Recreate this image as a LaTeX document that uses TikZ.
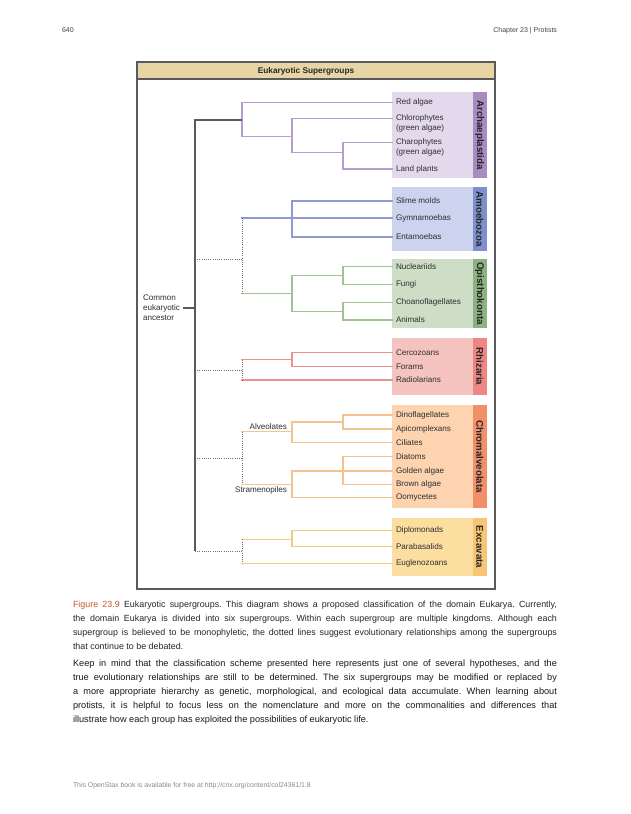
\documentclass[tikz,border=0pt]{standalone}
\usepackage{fontspec}
\setmainfont{Liberation Sans}
\frenchspacing
\definecolor{framec}{HTML}{5A5A5A}
\definecolor{tanc}{HTML}{E8D5A6}
\definecolor{txt}{HTML}{2E2E2E}
\definecolor{hdr}{HTML}{444444}
\definecolor{foot}{HTML}{8A8A8A}
\definecolor{figred}{HTML}{C9542F}
\definecolor{dotc}{HTML}{707070}
\definecolor{boxA}{HTML}{E3D9EC}\definecolor{stripA}{HTML}{A98AC1}\definecolor{lineA}{HTML}{B49ECD}
\definecolor{boxB}{HTML}{CBD3EE}\definecolor{stripB}{HTML}{7D8FCC}\definecolor{lineB}{HTML}{8D9BD2}
\definecolor{boxO}{HTML}{CDDDC6}\definecolor{stripO}{HTML}{8DB282}\definecolor{lineO}{HTML}{A0C394}
\definecolor{boxR}{HTML}{F6C4C0}\definecolor{stripR}{HTML}{EE8784}\definecolor{lineR}{HTML}{EE908C}
\definecolor{boxC}{HTML}{FDD4AF}\definecolor{stripC}{HTML}{F28F6B}\definecolor{lineC}{HTML}{F6C290}
\definecolor{boxE}{HTML}{FDDEA1}\definecolor{stripE}{HTML}{F7C575}\definecolor{lineE}{HTML}{F3CB80}
\newcommand\gbox[6]{%
  \fill[#3] (392,#1) rectangle (487,#2);
  \fill[#4] (472.5,#1) rectangle (487,#2);
  \node[grp] (#6) at (479.75,{(#1+#2)/2}) {#5};}
\newcommand\leaf[3]{%
  \coordinate (#1) at (392,#2);
  \node[lbl] (#1-t) at (396,#2) {#3};}
\begin{document}
\begin{tikzpicture}[x=1pt,y=-1pt,
  every node/.style={inner sep=0pt, outer sep=0pt},
  lbl/.style={anchor=west, font=\fontsize{8.1}{9.8}\selectfont, text=txt, align=left},
  grp/.style={rotate=-90, font=\fontsize{9.7}{11}\selectfont\bfseries, text=black!85},
  br/.style={line width=1.1pt, line cap=rect},
  dark/.style={draw=framec, line width=1.1pt},
  dots/.style={draw=dotc, line width=0.9pt, dash pattern=on 0.9pt off 1.3pt},
  captxt/.style={anchor=base west, font=\fontsize{8.9}{11}\selectfont, text=black!85},
  bodytxt/.style={anchor=base west, font=\fontsize{9.2}{11}\selectfont, text=black!90}]
\useasboundingbox (0,0) rectangle (630,814);
\fill[white] (0,0) rectangle (630,814);
% page header
\node[anchor=base west, font=\fontsize{7}{8}\selectfont, text=hdr] (pnum) at (62,32.5) {640};
\node[anchor=base east, font=\fontsize{7}{8}\selectfont, text=hdr] (chap) at (557,32.5) {Chapter 23 | Protists};
% figure frame
\fill[tanc] (137,62) rectangle (495,79);
\draw[framec, line width=1.3pt] (137,79) -- (495,79);
\draw[framec, line width=1.3pt] (137,62) rectangle (495,589);
\node[font=\fontsize{8.3}{10}\selectfont\bfseries, text=black!85] (title) at (306,71) {Eukaryotic Supergroups};
% group boxes
\gbox{92}{178}{boxA}{stripA}{Archaeplastida}{gA}
\gbox{187}{251}{boxB}{stripB}{Amoebozoa}{gB}
\gbox{259}{328}{boxO}{stripO}{Opisthokonta}{gO}
\gbox{338}{395}{boxR}{stripR}{Rhizaria}{gR}
\gbox{405}{508}{boxC}{stripC}{Chromalveolata}{gC}
\gbox{518}{576}{boxE}{stripE}{Excavata}{gE}
% leaves
\leaf{redal}{102.7}{Red algae}
\coordinate (chloro) at (392,118.3);
\node[lbl] (chloro-t) at (396,123.3) {Chlorophytes\\(green algae)};
\coordinate (charo) at (392,142.7);
\node[lbl] (charo-t) at (396,147.8) {Charophytes\\(green algae)};
\leaf{landpl}{169}{Land plants}
\leaf{slime}{201}{Slime molds}
\leaf{gymn}{218}{Gymnamoebas}
\leaf{ent}{237}{Entamoebas}
\leaf{nucl}{266.7}{Nucleariids}
\leaf{fungi}{284.3}{Fungi}
\leaf{choano}{302.3}{Choanoflagellates}
\leaf{anim}{320}{Animals}
\leaf{cerc}{352.7}{Cercozoans}
\leaf{foram}{366.7}{Forams}
\leaf{radio}{380}{Radiolarians}
\leaf{dino}{415}{Dinoflagellates}
\leaf{apic}{429}{Apicomplexans}
\leaf{cil}{442.7}{Ciliates}
\leaf{diat}{456.7}{Diatoms}
\leaf{gold}{471}{Golden algae}
\leaf{brown}{484.3}{Brown algae}
\leaf{oomy}{497.5}{Oomycetes}
\leaf{dipl}{530.7}{Diplomonads}
\leaf{para}{546.7}{Parabasalids}
\leaf{eugl}{563.5}{Euglenozoans}
% internal nodes
\coordinate (a3) at (343,152.7); \coordinate (a2) at (292,136.7); \coordinate (a1) at (242,120);
\coordinate (b2) at (292,218); \coordinate (b1) at (242,218);
\coordinate (o2a) at (343,275.7); \coordinate (o2b) at (343,311.7);
\coordinate (o1) at (292,293.7); \coordinate (o0) at (242,293.7);
\coordinate (r2) at (292,359.7); \coordinate (r1) at (242,359.7); \coordinate (r0) at (242,380);
\coordinate (al3) at (343,422); \coordinate (al2) at (292,431.7); \coordinate (al1) at (242,431.7);
\coordinate (st3) at (343,471); \coordinate (st2) at (292,484.3); \coordinate (st1) at (242,484.3);
\coordinate (e2) at (292,539.3); \coordinate (e1) at (242,539.3); \coordinate (e0) at (242,563.5);
\coordinate (top) at (195,120); \coordinate (bot) at (195,551); \coordinate (anc) at (195,308);
\coordinate (jBO) at (242,259); \coordinate (jR) at (242,370); \coordinate (jC) at (242,458); \coordinate (jE) at (242,551);
% Archaeplastida
\draw[br, draw=lineA] (charo) -| (a3) (landpl) -| (a3) (chloro) -| (a2) (a3) -| (a2) (redal) -| (a1) (a2) -| (a1);
% Amoebozoa
\draw[br, draw=lineB] (slime) -| (b2) (ent) -| (b2) (gymn) -- (b1);
% Opisthokonta
\draw[br, draw=lineO] (nucl) -| (o2a) (fungi) -| (o2a) (choano) -| (o2b) (anim) -| (o2b) (o2a) -| (o1) (o2b) -| (o1) (o1) -- (o0);
% Rhizaria
\draw[br, draw=lineR] (cerc) -| (r2) (foram) -| (r2) (r2) -- (r1) (radio) -- (r0);
% Chromalveolata
\draw[br, draw=lineC] (dino) -| (al3) (apic) -| (al3) (al3) -| (al2) (cil) -| (al2) (al2) -- (al1);
\draw[br, draw=lineC] (diat) -| (st3) (brown) -| (st3) (gold) -- (st3) (st3) -| (st2) (oomy) -| (st2) (st2) -- (st1);
\node[anchor=south east, font=\fontsize{8.1}{9.8}\selectfont, text=txt] (alv) at (287,429.5) {Alveolates};
\node[anchor=north east, font=\fontsize{8.1}{9.8}\selectfont, text=txt] (stram) at (287,486.5) {Stramenopiles};
% Excavata
\draw[br, draw=lineE] (dipl) -| (e2) (para) -| (e2) (e2) -- (e1) (eugl) -- (e0);
% dotted links
\draw[dots] (b1) -- (o0);
\draw[dots] (r1) -- (r0);
\draw[dots] (al1) -- (st1);
\draw[dots] (e1) -- (e0);
\draw[dots] (top |- jBO) -- (jBO);
\draw[dots] (top |- jR) -- (jR);
\draw[dots] (top |- jC) -- (jC);
\draw[dots] (bot) -- (jE);
% main stem
\draw[dark] (a1) -- (top) -- (bot);
\node[lbl] (ancestor) at (143,308) {Common\\eukaryotic\\ancestor};
\draw[dark] ([xshift=3.5pt]ancestor.east) -- (anc);
% caption
\node[captxt] (cap1) at (73,607) {\makebox[484pt][s]{\textcolor{figred}{Figure 23.9} Eukaryotic supergroups. This diagram shows a proposed classification of the domain Eukarya. Currently,}};
\node[captxt] (cap2) at (73,621) {\makebox[484pt][s]{the domain Eukarya is divided into six supergroups. Within each supergroup are multiple kingdoms. Although each}};
\node[captxt] (cap3) at (73,635) {\makebox[484pt][s]{supergroup is believed to be monophyletic, the dotted lines suggest evolutionary relationships among the supergroups}};
\node[captxt] (cap4) at (73,649) {that continue to be debated.};
% body
\node[bodytxt] (p1) at (73,666) {\makebox[484pt][s]{Keep in mind that the classification scheme presented here represents just one of several hypotheses, and the}};
\node[bodytxt] (p2) at (73,680) {\makebox[484pt][s]{true evolutionary relationships are still to be determined. The six supergroups may be modified or replaced by}};
\node[bodytxt] (p3) at (73,694) {\makebox[484pt][s]{a more appropriate hierarchy as genetic, morphological, and ecological data accumulate. When learning about}};
\node[bodytxt] (p4) at (73,708) {\makebox[484pt][s]{protists, it is helpful to focus less on the nomenclature and more on the commonalities and differences that}};
\node[bodytxt] (p5) at (73,722) {illustrate how each group has exploited the possibilities of eukaryotic life.};
% footer
\node[anchor=base west, font=\fontsize{6.9}{8}\selectfont, text=foot] (footer) at (73,787) {This OpenStax book is available for free at http://cnx.org/content/col24361/1.8};
\end{tikzpicture}
\end{document}
